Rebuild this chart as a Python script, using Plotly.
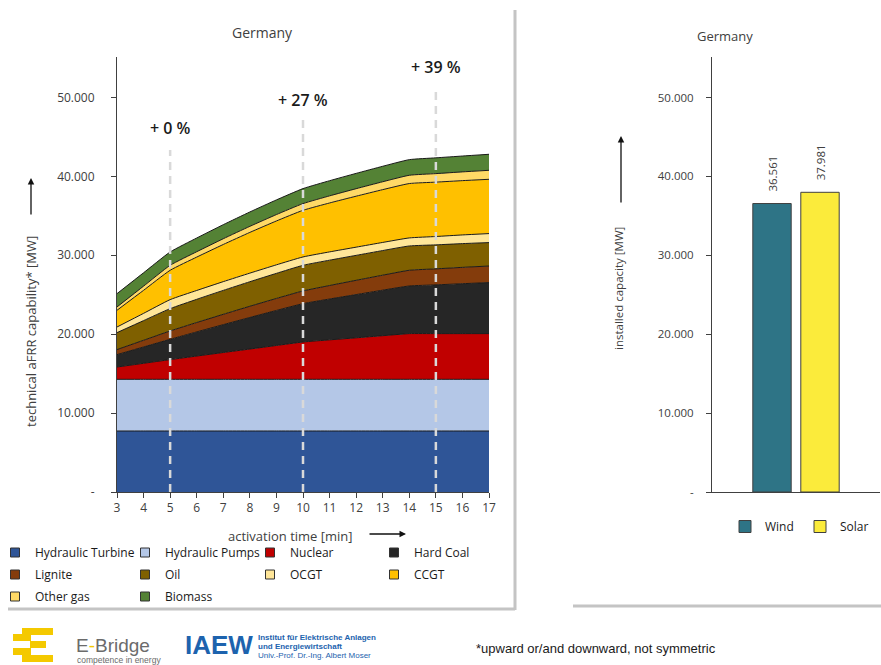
import plotly.graph_objects as go

# ---------------- data ----------------
minutes = [3, 4, 5, 6, 7, 8, 9, 10, 11, 12, 13, 14, 15, 16, 17]
hydraulic_turbine = [7730, 7730, 7730, 7730, 7730, 7730, 7730, 7730, 7730, 7730, 7730, 7730, 7730, 7730, 7730]
hydraulic_pumps = [6550, 6550, 6550, 6550, 6550, 6550, 6550, 6550, 6550, 6550, 6550, 6550, 6550, 6550, 6550]
nuclear = [1560, 2030, 2500, 2950, 3400, 3840, 4290, 4730, 5000, 5260, 5530, 5790, 5790, 5790, 5790]
hard_coal = [1570, 2070, 2570, 3060, 3530, 4000, 4440, 4860, 5180, 5480, 5770, 6040, 6180, 6330, 6470]
lignite = [640, 850, 1060, 1190, 1310, 1420, 1520, 1610, 1710, 1810, 1900, 1990, 2030, 2070, 2100]
oil = [2150, 2490, 2830, 2940, 3030, 3110, 3180, 3250, 3210, 3160, 3120, 3080, 3040, 3010, 2970]
ocgt = [710, 920, 1140, 1120, 1110, 1090, 1080, 1060, 1050, 1040, 1030, 1020, 1060, 1100, 1140]
ccgt = [2120, 2920, 3720, 4230, 4710, 5160, 5560, 5910, 6200, 6460, 6690, 6890, 6890, 6880, 6880]
other_gas = [420, 530, 630, 680, 730, 770, 810, 850, 900, 950, 1000, 1050, 1080, 1110, 1140]
biomass = [1690, 1690, 1690, 1740, 1780, 1820, 1860, 1900, 1920, 1940, 1960, 1980, 2000, 2010, 2030]

series_names = ["Hydraulic Turbine", "Hydraulic Pumps", "Nuclear", "Hard Coal", "Lignite",
                "Oil", "OCGT", "CCGT", "Other gas", "Biomass"]
series_values = [hydraulic_turbine, hydraulic_pumps, nuclear, hard_coal, lignite,
                 oil, ocgt, ccgt, other_gas, biomass]
series_colors = ["#2f5597", "#b4c7e7", "#c00000", "#262626", "#843c0c",
                 "#7f6000", "#ffe699", "#ffc000", "#ffd966", "#548235"]

marker_minutes = [5, 10, 15]
marker_labels = ["+ 0 %", "+ 27 %", "+ 39 %"]
marker_line_tops = [43350, 47400, 51200]
marker_label_y = [46130, 49680, 53870]

bar_categories = ["Wind", "Solar"]
bar_values = [36561, 37981]
bar_colors = ["#2e7486", "#fbeb3b"]

ytick_vals = [0, 10000, 20000, 30000, 40000, 50000]
ytick_text = ["-", "10.000", "20.000", "30.000", "40.000", "50.000"]

# ---------------- helpers ----------------
W, H = 881, 665
def px(x):
    return x / W
def py(y):
    return 1 - y / H

FONT = "Segoe UI, Open Sans, sans-serif"
TXT = "#404040"

fig = go.Figure()

# stacked areas
for name, vals, col in zip(series_names, series_values, series_colors):
    fig.add_trace(go.Scatter(
        x=minutes, y=vals, name=name, stackgroup="one", mode="lines",
        line=dict(color="#1a1a1a", width=1, shape="spline", smoothing=0.5),
        fillcolor=col, showlegend=False, hoverinfo="x+y+name",
        xaxis="x", yaxis="y"))

# legend entries: four column legends (row-major order as in the reference)
legend_cols = ["legend", "legend2", "legend3", "legend5"]
for i, (name, col) in enumerate(zip(series_names, series_colors)):
    fig.add_trace(go.Scatter(
        x=[None], y=[None], mode="markers", name=name, legend=legend_cols[i % 4],
        legendgroup=name,
        marker=dict(symbol="square", size=9, color=col, line=dict(color="#333333", width=1)),
        xaxis="x", yaxis="y"))

# bars
NBSP = "\u00a0\u00a0\u00a0"
for cat, val, col in zip(bar_categories, bar_values, bar_colors):
    fig.add_trace(go.Bar(
        x=[cat], y=[val], name=cat, marker=dict(color=col, line=dict(color="#404040", width=1)),
        width=0.8, texttemplate=NBSP + "%{y:,}", textposition="outside", textangle=-90,
        constraintext="none",
        textfont=dict(family=FONT, size=11.5, color=TXT), cliponaxis=False,
        legend="legend4", xaxis="x2", yaxis="y2"))

shapes = []
# dashed marker lines
for m, top in zip(marker_minutes, marker_line_tops):
    shapes.append(dict(type="line", xref="x", yref="y", x0=m, x1=m, y0=0, y1=top,
                       line=dict(color="#d9d9d9", width=2.5, dash="8px,6px"), layer="above"))
# panel shadows
shapes += [
    dict(type="line", xref="paper", yref="paper", x0=px(515), x1=px(515), y0=py(10), y1=py(610),
         line=dict(color="#c4c4c4", width=3)),
    dict(type="line", xref="paper", yref="paper", x0=px(8), x1=px(515), y0=py(609), y1=py(609),
         line=dict(color="#c4c4c4", width=3)),
    dict(type="line", xref="paper", yref="paper", x0=px(573), x1=px(881), y0=py(606), y1=py(606),
         line=dict(color="#c4c4c4", width=3)),
]
# E-Bridge logo blocks
ylw = "#f4c900"
for (x0, y0, x1, y1) in [(22, 628, 53, 635), (13, 634, 31, 641), (30, 641, 46, 648),
                         (13, 648, 31, 655), (22, 655, 53, 662)]:
    shapes.append(dict(type="rect", xref="paper", yref="paper", x0=px(x0), x1=px(x1),
                       y0=py(y1), y1=py(y0), fillcolor=ylw, line=dict(width=0)))

annotations = []
for m, lab, ly in zip(marker_minutes, marker_labels, marker_label_y):
    annotations.append(dict(x=m, y=ly, xref="x", yref="y", text=lab, showarrow=False,
                            font=dict(family=FONT, size=16, color="#1a1a1a", weight=600)))

def pa(text, x, y, size=12, color=TXT, angle=0, xanchor="center", family=FONT, weight=None):
    f = dict(family=family, size=size, color=color)
    if weight:
        f["weight"] = weight
    return dict(text=text, x=px(x), y=py(y), xref="paper", yref="paper", showarrow=False,
                textangle=angle, xanchor=xanchor, yanchor="middle", font=f)

def arrow(x, y, ax, ay):
    return dict(x=px(x), y=py(y), xref="paper", yref="paper", ax=ax, ay=ay, axref="pixel",
                ayref="pixel", text="", showarrow=True, arrowhead=2, arrowsize=1,
                arrowwidth=1.3, arrowcolor="#111111")

NARROW = "Liberation Sans Narrow, Liberation Sans, Arial, sans-serif"
annotations += [
    pa("Germany", 262, 33, size=14),
    pa("Germany", 725, 36, size=13),
    pa("technical aFRR capability* [MW]", 31, 332, size=13, angle=-90),
    arrow(31, 178, 0, 38),
    pa("activation time [min]", 290, 536, size=13),
    arrow(406, 534, -38, 0),
    pa("installed capacity [MW]", 618, 289, size=11.5, angle=-90),
    arrow(621, 136, 0, 68),
    pa("E<span style='color:#f4c900'>-</span>Bridge", 74, 645, size=19, color="#6b6b6b",
       xanchor="left", family="Liberation Sans, Arial, sans-serif"),
    pa("competence in energy", 75, 660, size=8.5, color="#6b6b6b", xanchor="left",
       family="Liberation Sans, Arial, sans-serif"),
    pa("IAEW", 183, 645, size=26, color="#1d63ae", xanchor="left", family=NARROW, weight=700),
    pa("Institut für Elektrische Anlagen", 256, 637, size=8, color="#1d63ae", xanchor="left",
       family=NARROW, weight=700),
    pa("und Energiewirtschaft", 256, 646, size=8, color="#1d63ae", xanchor="left",
       family=NARROW, weight=700),
    pa("Univ.-Prof. Dr.-Ing. Albert Moser", 256, 655, size=8, color="#1d63ae", xanchor="left",
       family=NARROW),
    pa("*upward or/and downward, not symmetric", 474, 648, size=13, color="#1a1a1a",
       xanchor="left", family=NARROW),
]

ydom = [py(492), py(57)]
axis_common = dict(showline=True, linecolor="#404040", linewidth=1, ticks="outside",
                   ticklen=5, tickcolor="#404040", showgrid=False, zeroline=False,
                   tickfont=dict(family=FONT, size=12, color=TXT))

col_legend = dict(orientation="v", xanchor="left", yanchor="top", bgcolor="rgba(0,0,0,0)",
                  font=dict(family=FONT, size=12, color="#1a1a1a"), itemwidth=30,
                  tracegroupgap=3, itemclick=False, traceorder="grouped")
legend_top = py(538)

fig.update_layout(
    width=W, height=H, margin=dict(l=0, r=0, t=0, b=0, autoexpand=False),
    paper_bgcolor="white", plot_bgcolor="white", separators=",.",
    xaxis=dict(domain=[px(117), px(489)], range=[3, 17], tickmode="array", tickvals=minutes,
               anchor="y", **axis_common),
    yaxis=dict(domain=ydom, range=[0, 55130], tickmode="array", tickvals=ytick_vals,
               ticktext=ytick_text, anchor="x", ticklabelstandoff=14, **axis_common),
    xaxis2=dict(domain=[px(712), px(880)], range=[-1.25, 2.25], showticklabels=False,
                anchor="y2", showline=True, linecolor="#404040", ticks="", showgrid=False,
                zeroline=False, type="category"),
    yaxis2=dict(domain=ydom, range=[0, 55130], tickmode="array", tickvals=ytick_vals,
                ticktext=ytick_text, anchor="x2", ticklabelstandoff=10,
                **{**axis_common, "tickfont": dict(family=FONT, size=11.5, color=TXT)}),
    legend=dict(x=px(-5), y=legend_top, **col_legend),
    legend2=dict(x=px(125), y=legend_top, **col_legend),
    legend3=dict(x=px(250), y=legend_top, **col_legend),
    legend5=dict(x=px(374), y=legend_top, **col_legend),
    legend4=dict(x=px(725), y=py(512), orientation="h", xanchor="left", yanchor="top",
                 bgcolor="rgba(0,0,0,0)", font=dict(family=FONT, size=12, color="#1a1a1a"),
                 itemwidth=30, entrywidthmode="pixels", entrywidth=30, itemclick=False,
                 traceorder="normal"),
    shapes=shapes, annotations=annotations, bargap=0.2,
)

fig.write_html("out.html", config={"displayModeBar": False},
               post_script="document.body.style.margin='0';")
